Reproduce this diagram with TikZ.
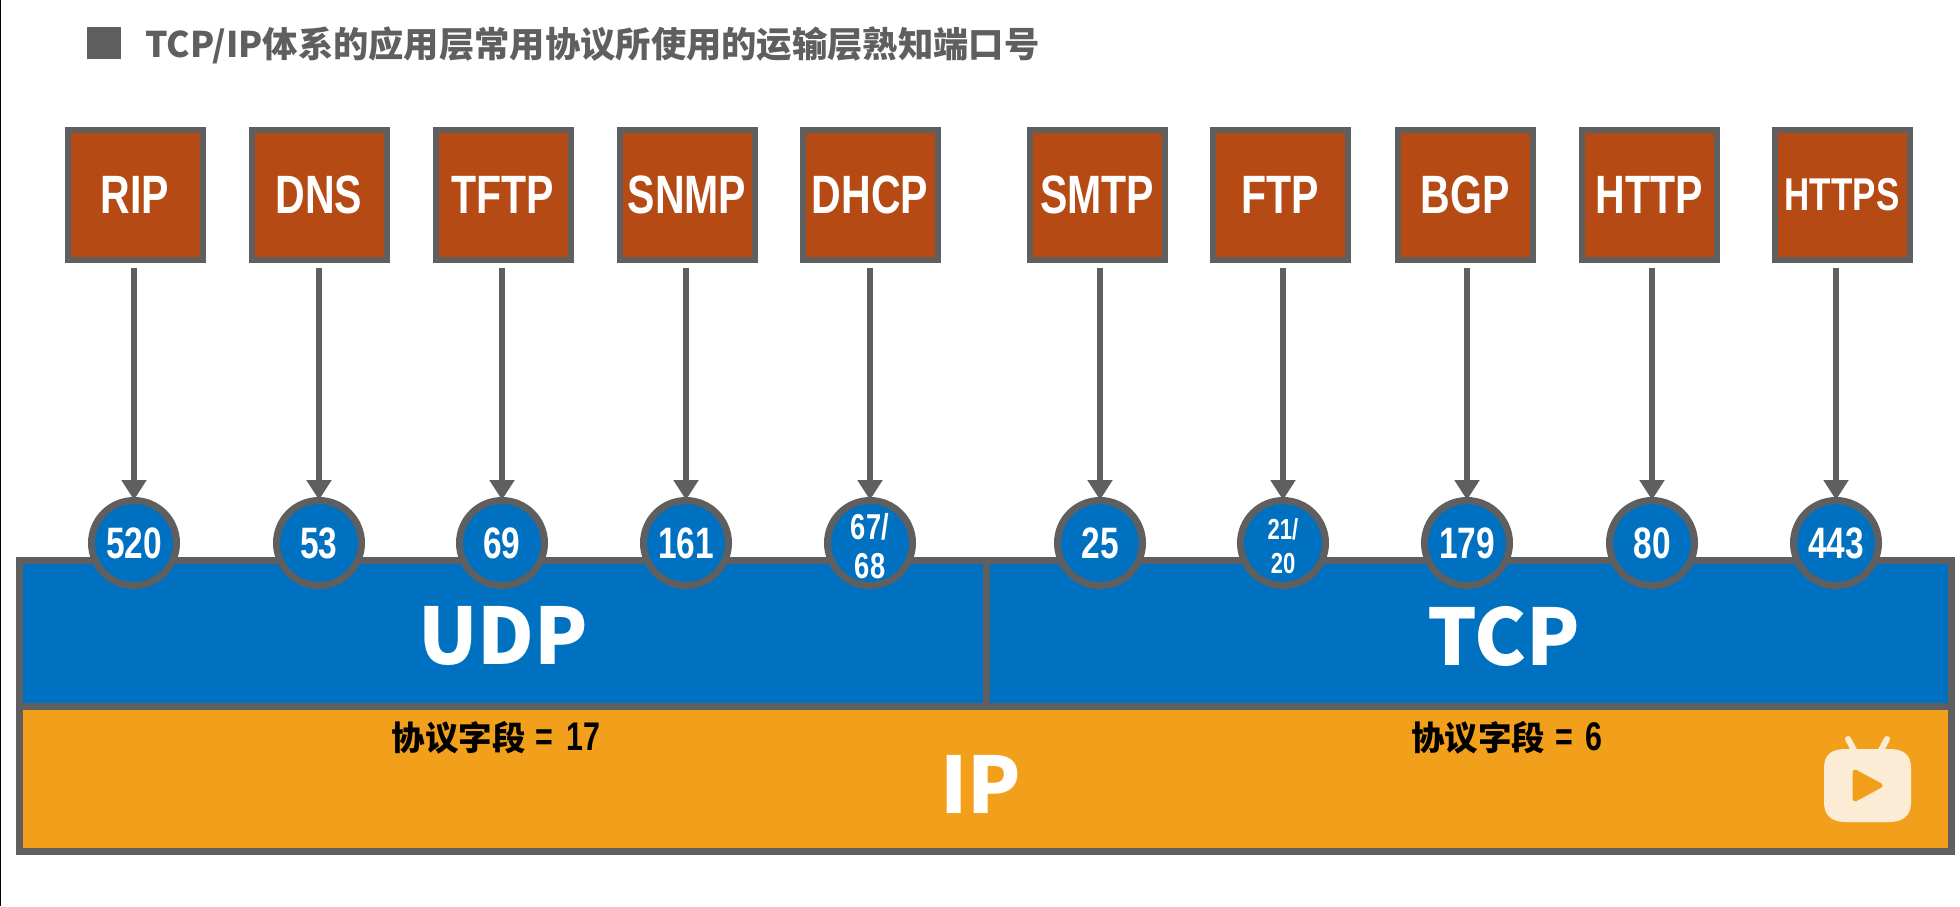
\documentclass[tikz,border=0pt]{standalone}
\usepackage{fontspec}
\setmainfont{Liberation Sans}
\newfontfamily\cjk{Noto Sans CJK SC}
\newfontfamily\narrow[FakeStretch=0.76]{Liberation Sans}
\definecolor{edge}{HTML}{5F5F5F}
\definecolor{rust}{HTML}{B54A14}
\definecolor{blueband}{HTML}{0070C0}
\definecolor{orangeband}{HTML}{F2A01B}
\definecolor{logo}{HTML}{FCEBD5}
\newcommand{\fsz}[1]{\fontsize{#1}{#1}\selectfont}
\usetikzlibrary{arrows.meta}
\tikzset{
  protobox/.style={draw=edge,line width=6pt,fill=rust,text=white,minimum width=135pt,minimum height=130pt,inner sep=0pt,font=\narrow\bfseries},
  portdot/.style={circle,draw=edge,line width=7pt,fill=blueband,text=white,minimum size=85pt,inner sep=0pt,align=center,font=\narrow\bfseries\fsz{44}},
  band/.style={rectangle,draw=edge,line width=7pt,inner sep=0pt},
  bandlabel/.style={text=white,inner sep=0pt,font=\cjk\bfseries\fsz{78}},
  fieldlabel/.style={text=black,inner sep=0pt},
  portarrow/.style={draw=edge,line width=5.5pt,shorten <=5pt,shorten >=-3pt,-{Triangle[length=20pt,width=24pt]}},
}
\begin{document}
\begin{tikzpicture}[x=1pt,y=-1pt]
\useasboundingbox (0,0) rectangle (1960,906);
\fill[white] (0,0) rectangle (1960,906);
\draw[black,line width=1.5pt] (0.5,0) -- (0.5,906);
% title
\node[fill=edge,minimum width=34pt,minimum height=32pt,inner sep=0pt] (mark) at (104,43) {};
\node[anchor=west,inner sep=0pt,text=edge,font=\cjk\bfseries\fsz{35.3}] (title) at (145,45) {TCP/IP体系的应用层常用协议所使用的运输层熟知端口号};
% bands
\node[band,fill=orangeband,minimum width=1932pt,minimum height=145pt] (ipband) at (985.5,779) {};
\node[band,fill=blueband,minimum width=966.5pt,minimum height=146pt] (udpband) at (502.75,633.5) {};
\node[band,fill=blueband,minimum width=965.5pt,minimum height=146pt] (tcpband) at (1468.75,633.5) {};
\node[bandlabel] (udplabel) at (503,636) {UDP};
\node[bandlabel] (tcplabel) at (1504,636) {TCP};
\node[bandlabel] (iplabel) at (981,784) {IP};
\node[fieldlabel] (udpfield) at (496,738) {{\cjk\bfseries\fsz{33.5}协议字段}\hspace{10pt}{\narrow\bfseries\fsz{40}=\hspace{13pt}17}};
\node[fieldlabel] (tcpfield) at (1507,738) {{\cjk\bfseries\fsz{33.5}协议字段}\hspace{10pt}{\narrow\bfseries\fsz{40}=\hspace{13pt}6}};
% protocol boxes, ports, arrows
\foreach \nm/\x/\cx/\lab/\port/\sz in {rip/135/134/RIP/520/54,dns/319/319/DNS/53/54,tftp/503/502/TFTP/69/54,snmp/687/686/SNMP/161/54,dhcp/870/870/DHCP//54,smtp/1097/1100/SMTP/25/54,ftp/1280/1283/FTP//54,bgp/1465/1467/BGP/179/54,http/1649/1652/HTTP/80/54,https/1842/1836/HTTPS/443/46}{
  \node[protobox] (b\nm) at (\x,194.5) {\fsz{\sz}\lab};
  \node[portdot] (c\nm) at (\cx,543) {\raisebox{-2pt}{\port}};
  \draw[portarrow] (b\nm.south -| c\nm.north) -- (c\nm.north);
}
\node[text=white,align=center,inner sep=0pt,font=\narrow\bfseries\fsz{36}] (l6768) at (870,546) {67/\\[3pt]68};
\node[text=white,align=center,inner sep=0pt,font=\narrow\bfseries\fsz{29}] (l2120) at (1283,546) {21/\\[5pt]20};
% logo
\fill[logo] (1824,768) .. controls (1824,754) and (1832,749) .. (1846,749) -- (1889,749) .. controls (1903,749) and (1911,754) .. (1911,768) -- (1911,802) .. controls (1911,816) and (1903,822) .. (1889,822) -- (1846,822) .. controls (1832,822) and (1824,816) .. (1824,802) -- cycle;
\draw[logo,line width=6pt,line cap=round] (1848,739) -- (1855,752);
\draw[logo,line width=6pt,line cap=round] (1887,739) -- (1880,752);
\fill[orangeband,draw=orangeband,line width=5pt,line join=round] (1855,772) -- (1855,799) -- (1880,785.5) -- cycle;
\end{tikzpicture}
\end{document}
